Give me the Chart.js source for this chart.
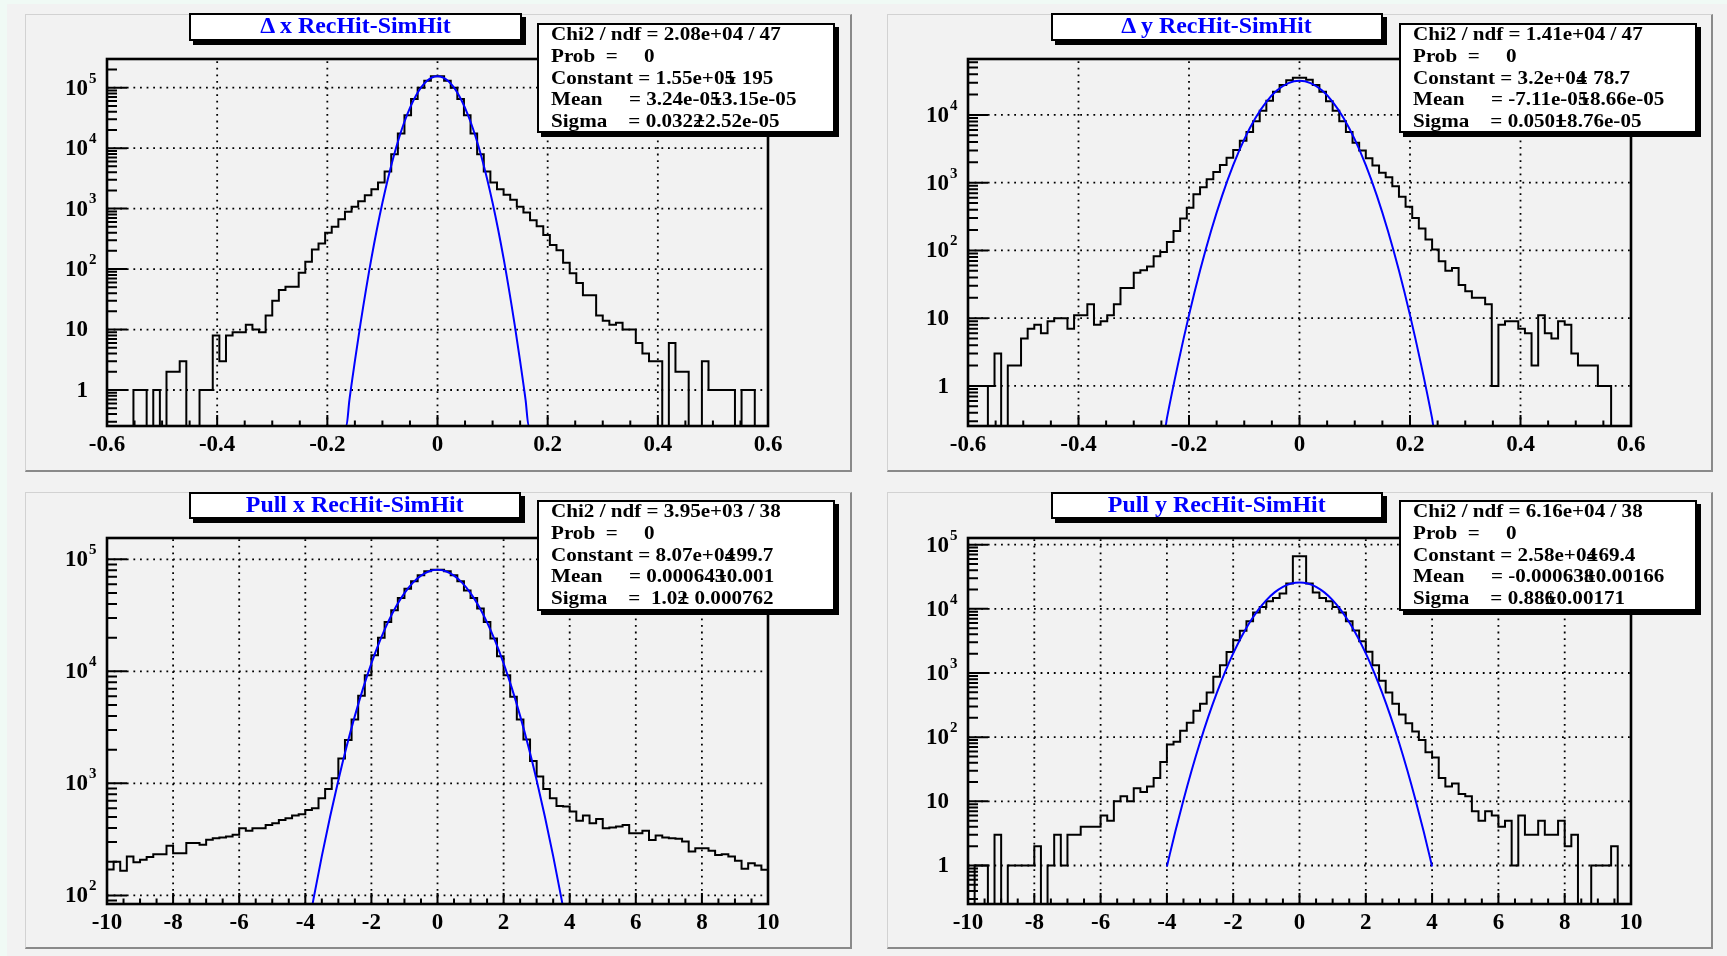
<!DOCTYPE html>
<html>
<head>
<meta charset="utf-8">
<title>RecHit - SimHit residuals and pulls</title>
<script src="https://cdn.jsdelivr.net/npm/chart.js@4.4.1/dist/chart.umd.min.js"></script>
<style>
  html, body { margin: 0; padding: 0; }
  body { width: 1727px; height: 956px; background: #f0faf5; position: relative; overflow: hidden;
         font-family: "Liberation Serif", "Times New Roman", serif; }
  #sheet { position: absolute; left: 7px; top: 4px; width: 1720px; height: 952px; background: #f2f2f2; }
  .pad { position: absolute; box-sizing: border-box; background: #f2f2f2;
         border-top: 1px solid #d2d2d2; border-left: 1px solid #d2d2d2;
         border-right: 2px solid #8a8a8a; border-bottom: 2px solid #8a8a8a; }
  .plot { position: absolute; }
  .plot canvas { display: block; }
  .title { position: absolute; box-sizing: border-box; background: #fff; border: 2px solid #000;
           box-shadow: 4px 4px 0 #000; color: #0000ff; font-weight: bold; font-size: 23px;
           line-height: 21px; text-align: center; white-space: nowrap; }
  .title span { display: inline-block; transform: scaleX(1.04); }
  .stats { position: absolute; box-sizing: border-box; background: #fff; border: 2px solid #000;
           box-shadow: 4px 4px 0 #000; font-weight: bold; font-size: 19px; color: #000; padding-left: 12px; }
  .stats .rows { position: relative; top: -2px; }
  .stats .rows div { white-space: pre; height: 21.8px; line-height: 21.8px;
                     transform: scaleX(1.11); transform-origin: 0 50%; }
  .pm { display: inline-block; margin-left: -0.48em; }
</style>
</head>
<body>
<div id="sheet"></div>

<div class="pad" style="left:25px;top:14px;width:827px;height:458px"></div>
<div class="pad" style="left:887px;top:14px;width:826px;height:458px"></div>
<div class="pad" style="left:25px;top:492px;width:827px;height:457px"></div>
<div class="pad" style="left:887px;top:492px;width:826px;height:457px"></div>

<div class="plot" style="left:25px;top:14px"><canvas id="cDx" width="827" height="458"></canvas></div>
<div class="plot" style="left:887px;top:14px"><canvas id="cDy" width="826" height="458"></canvas></div>
<div class="plot" style="left:25px;top:492px"><canvas id="cPx" width="827" height="457"></canvas></div>
<div class="plot" style="left:887px;top:492px"><canvas id="cPy" width="826" height="457"></canvas></div>

<div class="title" id="tDx" style="left:189px;top:13px;width:333px;height:28px"></div>
<div class="title" id="tDy" style="left:1051px;top:13px;width:332px;height:28px"></div>
<div class="title" id="tPx" style="left:189px;top:492px;width:332px;height:27px"></div>
<div class="title" id="tPy" style="left:1051px;top:492px;width:332px;height:27px"></div>

<div class="stats" id="sDx" style="left:537px;top:23px;width:298px;height:110px"></div>
<div class="stats" id="sDy" style="left:1399px;top:23px;width:298px;height:110px"></div>
<div class="stats" id="sPx" style="left:537px;top:500px;width:298px;height:111px"></div>
<div class="stats" id="sPy" style="left:1399px;top:500px;width:298px;height:111px"></div>

<script>
// ---- data (100 bins each) ----
const binsDx = [
  0, 0, 0, 0, 1, 1, 0, 1, 0, 2,
  2, 3, 0, 0, 1, 1, 8, 3, 8, 9,
  9, 12, 10, 9, 17, 30, 45, 51, 51, 87,
  132, 211, 265, 400, 500, 670, 890, 1070, 1320, 1660,
  2090, 2700, 4100, 7900, 17500, 35000, 65000, 100000, 130000, 155000,
  155000, 130000, 100000, 65000, 35000, 17500, 7900, 4100, 2700, 2100,
  1700, 1400, 1070, 860, 640, 510, 365, 250, 205, 127,
  85, 59, 37, 37, 17, 14, 12, 13, 10, 10,
  6, 4, 3, 3, 0, 6, 2, 2, 0, 0,
  3, 1, 1, 1, 1, 0, 1, 1, 0, 0
];
const binsDy = [
  0, 0, 0, 1, 3, 0, 2, 2, 5, 7,
  8, 6, 9, 10, 10, 7, 11, 11, 16, 8,
  9, 11, 16, 28, 28, 47, 51, 58, 82, 95,
  133, 193, 297, 425, 675, 860, 1120, 1440, 1820, 2340,
  3030, 4150, 5600, 8100, 11500, 16200, 22000, 27600, 32500, 35500,
  35500, 33000, 27600, 22000, 16000, 11500, 8100, 5600, 3900, 3000,
  2300, 1800, 1400, 1200, 890, 620, 440, 300, 210, 145,
  103, 69, 50, 55, 31, 25, 20, 20, 16, 1,
  8, 9, 9, 7, 6, 2, 11, 6, 5, 9,
  8, 3, 2, 2, 2, 1, 1, 0, 0, 0
];
const binsPullX = [
  170, 200, 166, 223, 198, 208, 220, 233, 233, 277,
  238, 238, 293, 293, 283, 314, 324, 329, 336, 347,
  398, 377, 398, 398, 426, 441, 472, 489, 517, 531,
  580, 600, 736, 891, 1110, 1670, 2440, 3720, 6050, 9250,
  13900, 19900, 27600, 35100, 45200, 54700, 63600, 71900, 78200, 80900,
  80900, 78200, 71900, 63600, 52800, 45200, 36300, 27600, 19600, 13650,
  9250, 5930, 3720, 2470, 1585, 1150, 891, 736, 629, 621,
  560, 463, 517, 441, 482, 398, 404, 412, 426, 359,
  359, 377, 313, 343, 329, 324, 320, 303, 247, 264,
  264, 250, 230, 233, 222, 204, 173, 194, 185, 169
];
const binsPullY = [
  0, 1, 1, 0, 3, 0, 1, 1, 1, 1,
  2, 0, 1, 3, 1, 3, 3, 4, 4, 4,
  6, 5, 10, 12, 10, 16, 14, 17, 23, 41,
  77, 85, 126, 168, 258, 332, 497, 874, 1320, 2130,
  3230, 4560, 6420, 8760, 10700, 13100, 14700, 17300, 24800, 66000,
  66000, 24800, 18000, 14700, 13100, 10700, 8760, 6420, 4590, 3130,
  2140, 1325, 756, 497, 332, 226, 164, 122, 90, 58,
  48, 23, 17, 19, 13, 12, 7, 5, 7, 6,
  4, 5, 1, 6, 3, 3, 5, 3, 3, 5,
  2, 3, 0, 0, 1, 1, 1, 2, 0, 0
];

// ---- gaussian fit curves ----
const fitDxX = [-0.3, -0.2, -0.1655, -0.16, -0.15, -0.14, -0.12, -0.1, -0.08, -0.06, -0.04, -0.02, 0,
                0.02, 0.04, 0.06, 0.08, 0.1, 0.12, 0.14, 0.15, 0.16, 0.1655, 0.2, 0.3];
const fitDxY = [0.254, 0.254, 0.254, 0.674, 3.0, 12.2, 150, 1248, 7080, 27300, 71700, 127800, 155000,
                127800, 71700, 27300, 7080, 1248, 150, 12.2, 3.0, 0.674, 0.254, 0.254, 0.254];
const fitDyX = [-0.3, -0.2425, -0.24, -0.22, -0.2, -0.18, -0.16, -0.14, -0.12, -0.1, -0.08, -0.06, -0.04, -0.02, 0,
                0.02, 0.04, 0.06, 0.08, 0.1, 0.12, 0.14, 0.16, 0.18, 0.2, 0.22, 0.24, 0.2425, 0.3];
const fitDyY = [0.256, 0.256, 0.332, 2.08, 11.1, 50.4, 195, 645, 1817, 4365, 8944, 15620, 23270, 29550, 32000,
                29550, 23270, 15620, 8944, 4365, 1817, 645, 195, 50.4, 11.1, 2.08, 0.332, 0.256, 0.256];
const fitPullGrid = [-4, -3.75, -3.5, -3.25, -3, -2.75, -2.5, -2.25, -2, -1.75, -1.5, -1.25, -1, -0.75, -0.5, -0.25, 0,
                     0.25, 0.5, 0.75, 1, 1.25, 1.5, 1.75, 2, 2.25, 2.5, 2.75, 3, 3.25, 3.5, 3.75, 4];
const fitPullXY = [36.9, 93.7, 224, 504, 1068, 2131, 4003, 7084, 11800, 18520, 27370, 38080, 49900, 61590, 71570, 78310, 80700,
                   78310, 71570, 61590, 49900, 38080, 27370, 18520, 11800, 7084, 4003, 2131, 1068, 504, 224, 93.7, 36.9];
const fitPullYY = [0.967, 3.32, 10.5, 30.8, 83.5, 209, 482, 1026, 2019, 3669, 6156, 9535, 13650, 18030, 22000, 24790, 25800,
                   24790, 22000, 18030, 13650, 9535, 6156, 3669, 2019, 1026, 482, 209, 83.5, 30.8, 10.5, 3.32, 0.967];

// ---- axis labels ----
const xTicksDelta = [-0.6, -0.4, -0.2, 0, 0.2, 0.4, 0.6];
const xTicksPull = [-10, -8, -6, -4, -2, 0, 2, 4, 6, 8, 10];
const yDecadesDx = [1, 10, 100, 1000, 10000, 100000];
const yDecadesDy = [1, 10, 100, 1000, 10000];
const yDecadesPx = [100, 1000, 10000, 100000];
const yDecadesPy = [1, 10, 100, 1000, 10000, 100000];

// ---- titles and fit boxes ----
const titles = { tDx: 'Δ x RecHit-SimHit', tDy: 'Δ y RecHit-SimHit', tPx: 'Pull x RecHit-SimHit', tPy: 'Pull y RecHit-SimHit' };
const statsDx = [['Chi2 / ndf = 2.08e+04 / 47'], ['Prob  =     0'], ['Constant = 1.55e+05', ' 195'],
                 ['Mean     = 3.24e-05', '3.15e-05'], ['Sigma    = 0.0322', '2.52e-05']];
const statsDy = [['Chi2 / ndf = 1.41e+04 / 47'], ['Prob  =     0'], ['Constant = 3.2e+04', ' 78.7'],
                 ['Mean     = -7.11e-05', '8.66e-05'], ['Sigma    = 0.0501', '8.76e-05']];
const statsPx = [['Chi2 / ndf = 3.95e+03 / 38'], ['Prob  =     0'], ['Constant = 8.07e+04', '99.7'],
                 ['Mean     = 0.000643', '0.001'], ['Sigma    =  1.02', ' 0.000762']];
const statsPy = [['Chi2 / ndf = 6.16e+04 / 38'], ['Prob  =     0'], ['Constant = 2.58e+04', '69.4'],
                 ['Mean     = -0.000638', '0.00166'], ['Sigma    = 0.886', '0.00171']];

Object.keys(titles).forEach(id => {
  const s = document.createElement('span');
  s.textContent = titles[id];
  document.getElementById(id).appendChild(s);
});

function fillStats(id, rows) {
  const box = document.getElementById(id);
  const wrap = document.createElement('div');
  wrap.className = 'rows';
  rows.forEach(r => {
    const line = document.createElement('div');
    line.appendChild(document.createTextNode(r[0]));
    if (r.length > 1) {
      const pm = document.createElement('span');
      pm.className = 'pm';
      pm.textContent = '±';
      line.appendChild(pm);
      line.appendChild(document.createTextNode(r[1]));
    }
    wrap.appendChild(line);
  });
  box.appendChild(wrap);
}
fillStats('sDx', statsDx);
fillStats('sDy', statsDy);
fillStats('sPx', statsPx);
fillStats('sPy', statsPy);

const FONT = '"Liberation Serif", "Times New Roman", serif';

// ROOT-like frame: dotted grid, inward ticks, thick frame and 10^n labels
function frameDecor(spec) {
  return {
    id: 'frameDecor',
    beforeDatasetsDraw(chart) {
      const { ctx, chartArea: a, scales: { x, y } } = chart;
      ctx.save();
      ctx.strokeStyle = '#000';
      ctx.lineWidth = 1.8;
      ctx.setLineDash([1.8, 4.8]);
      ctx.beginPath();
      spec.xTicks.forEach(v => {
        const px = x.getPixelForValue(v);
        if (px <= a.left + 2 || px >= a.right - 2) return;
        ctx.moveTo(px, a.bottom);
        ctx.lineTo(px, a.top);
      });
      spec.yTicks.forEach(v => {
        const py = y.getPixelForValue(v);
        if (py <= a.top + 2 || py >= a.bottom - 2) return;
        ctx.moveTo(a.left, py);
        ctx.lineTo(a.right, py);
      });
      ctx.stroke();
      ctx.restore();
    },
    afterDatasetsDraw(chart) {
      const { ctx, chartArea: a, scales: { x, y } } = chart;
      ctx.save();
      ctx.strokeStyle = '#000';
      ctx.lineWidth = 2;
      ctx.beginPath();
      const n = Math.round((x.max - x.min) / spec.xMinor);
      for (let i = 0; i <= n; i++) {
        const v = x.min + i * spec.xMinor;
        const major = spec.xTicks.some(t => Math.abs(t - v) < 1e-9);
        const px = x.getPixelForValue(v);
        ctx.moveTo(px, a.bottom);
        ctx.lineTo(px, a.bottom - (major ? 11 : 5.5));
      }
      const e0 = Math.floor(Math.log10(y.min)), e1 = Math.ceil(Math.log10(y.max));
      for (let e = e0; e <= e1; e++) {
        for (let k = 1; k <= 9; k++) {
          const v = k * Math.pow(10, e);
          if (v < y.min || v > y.max) continue;
          const py = y.getPixelForValue(v);
          ctx.moveTo(a.left, py);
          ctx.lineTo(a.left + (k === 1 ? 20 : 10), py);
        }
      }
      ctx.stroke();

      ctx.lineWidth = 2.6;
      ctx.strokeRect(a.left, a.top, a.right - a.left, a.bottom - a.top);

      ctx.fillStyle = '#000';
      ctx.textBaseline = 'middle';
      spec.yTicks.forEach(v => {
        const py = y.getPixelForValue(v);
        const ex = Math.round(Math.log10(v));
        const xr = a.left - 19;
        ctx.font = 'bold 23px ' + FONT;
        ctx.textAlign = 'right';
        if (ex < 2) {
          ctx.fillText(String(v), xr, py + 1);
        } else {
          ctx.fillText('10', xr, py + 1);
          ctx.font = 'bold 15px ' + FONT;
          ctx.textAlign = 'left';
          ctx.fillText(String(ex), xr + 1, py - 9);
        }
      });
      ctx.restore();
    }
  };
}

function drawPanel(id, bins, fitX, fitY, spec) {
  const w = (spec.xMax - spec.xMin) / bins.length;
  const hist = bins.map((v, i) => ({ x: spec.xMin + i * w, y: Math.max(v, spec.yMin) }));
  hist.push({ x: spec.xMax, y: Math.max(bins[bins.length - 1], spec.yMin) });
  const fit = fitX.map((v, i) => ({ x: v, y: fitY[i] }));

  new Chart(document.getElementById(id), {
    type: 'line',
    data: {
      datasets: [
        { data: fit, borderColor: '#0000ff', borderWidth: 2, pointRadius: 0, fill: false,
          cubicInterpolationMode: 'monotone' },
        { data: hist, borderColor: '#000', borderWidth: 2, pointRadius: 0, fill: false, stepped: 'before' }
      ]
    },
    options: {
      responsive: false,
      animation: false,
      events: [],
      layout: { padding: { top: spec.pad[0], right: spec.pad[1], bottom: 0, left: 0 } },
      plugins: { legend: { display: false }, tooltip: { enabled: false } },
      scales: {
        x: {
          type: 'linear', min: spec.xMin, max: spec.xMax,
          afterBuildTicks: s => { s.ticks = spec.xTicks.map(v => ({ value: v })); },
          afterFit: s => { s.height = spec.pad[2]; },
          grid: { display: false, drawTicks: false },
          border: { display: false },
          ticks: { color: '#000', padding: 5, maxRotation: 0, autoSkip: false,
                   font: { family: FONT, size: 23, weight: 'bold' },
                   callback: v => String(v) }
        },
        y: {
          type: 'logarithmic', min: spec.yMin, max: spec.yMax,
          afterFit: s => { s.width = spec.pad[3]; },
          grid: { display: false, drawTicks: false },
          border: { display: false },
          ticks: { display: false }
        }
      }
    },
    plugins: [frameDecor(spec)]
  });
}

drawPanel('cDx', binsDx, fitDxX, fitDxY,
  { xMin: -0.6, xMax: 0.6, yMin: 0.254, yMax: 2.98e5, xTicks: xTicksDelta, xMinor: 0.05,
    yTicks: yDecadesDx, pad: [45, 84, 46, 82] });
drawPanel('cDy', binsDy, fitDyX, fitDyY,
  { xMin: -0.6, xMax: 0.6, yMin: 0.256, yMax: 6.7e4, xTicks: xTicksDelta, xMinor: 0.05,
    yTicks: yDecadesDy, pad: [45, 82, 46, 81] });
drawPanel('cPx', binsPullX, fitPullGrid, fitPullXY,
  { xMin: -10, xMax: 10, yMin: 83.8, yMax: 1.55e5, xTicks: xTicksPull, xMinor: 0.5,
    yTicks: yDecadesPx, pad: [46, 84, 45, 82] });
drawPanel('cPy', binsPullY, fitPullGrid, fitPullYY,
  { xMin: -10, xMax: 10, yMin: 0.251, yMax: 1.27e5, xTicks: xTicksPull, xMinor: 0.5,
    yTicks: yDecadesPy, pad: [46, 82, 45, 81] });
</script>
</body>
</html>
